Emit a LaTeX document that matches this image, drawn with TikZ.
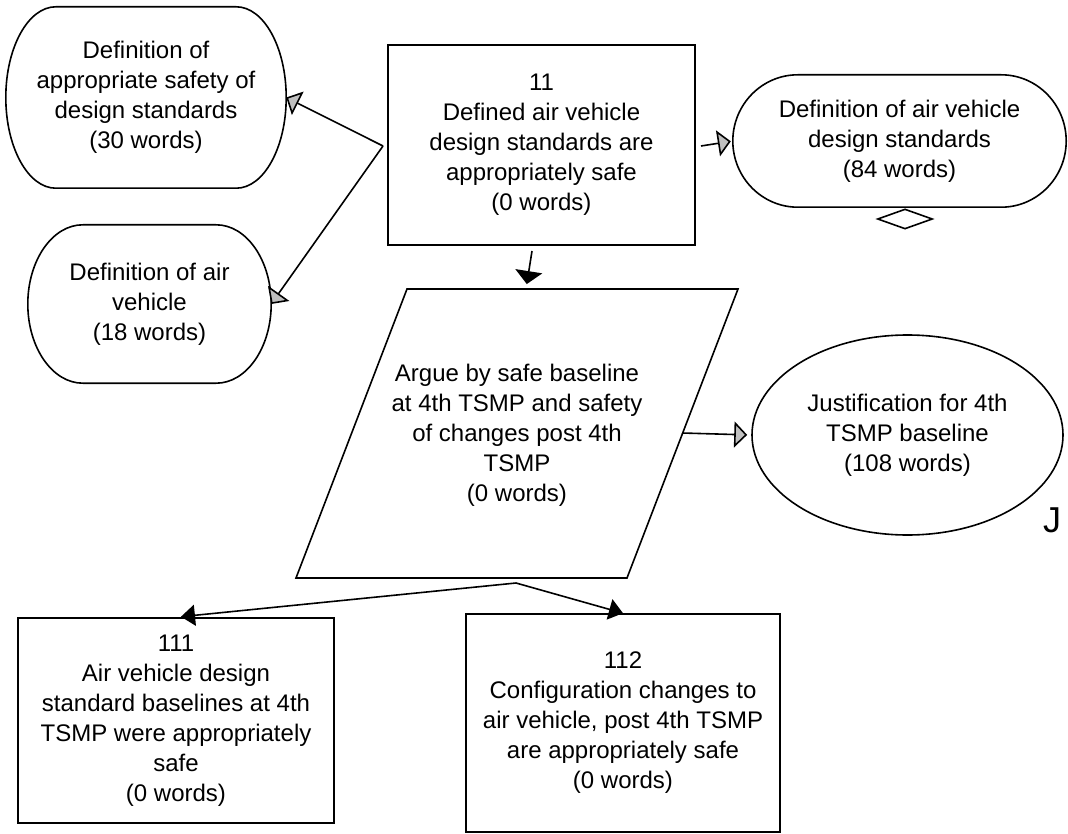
\documentclass[tikz,border=0pt]{standalone}
\usepackage{fontspec}
\setmainfont{Liberation Sans}
\usetikzlibrary{arrows.meta,calc,shapes.geometric}
\definecolor{tipgray}{RGB}{192,192,192}

% Stadium outline around a named node: #1 node, #2 horizontal end radius, #3 half height
\newcommand\stadiumoutline[3]{%
  \draw[shapeline] ($(#1.north west)+(#2,0)$) -- ($(#1.north east)+(-#2,0)$)
    .. controls +(0.5523*#2,0) and +(0,-0.5523*#3) .. (#1.east)
    .. controls +(0,0.5523*#3) and +(0.5523*#2,0) .. ($(#1.south east)+(-#2,0)$)
    -- ($(#1.south west)+(#2,0)$)
    .. controls +(-0.5523*#2,0) and +(0,0.5523*#3) .. (#1.west)
    .. controls +(0,-0.5523*#3) and +(-0.5523*#2,0) .. ($(#1.north west)+(#2,0)$)
    -- cycle;}

\tikzset{
  shapeline/.style={line width=1.6pt, line join=miter},
  label text/.style={align=center, inner sep=0pt, font=\fontsize{24}{30}\selectfont},
  stadiumtext/.style={label text},
  goalbox/.style={label text, draw, line width=1.6pt},
  contextell/.style={label text, ellipse, draw, line width=1.6pt},
  grayarrow/.style={line width=1.6pt, -{Triangle[length=13pt,width=26pt,fill=tipgray]}},
  blackarrow/.style={line width=1.6pt, -{Triangle[length=13pt,width=27pt]}},
  smallblack/.style={line width=1.6pt, -{Triangle[length=14pt,width=21pt]}},
}

\begin{document}
\begin{tikzpicture}[x=1pt,y=-1pt]
\useasboundingbox (0,0) rectangle (1068,834);

% context stadiums
\node[stadiumtext, minimum width=280pt, minimum height=181pt] (s1) at (146,97.5)
  {Definition of\\appropriate safety of\\design standards\\(30 words)};
\stadiumoutline{s1}{50}{90.5}

\node[stadiumtext, minimum width=243pt, minimum height=158pt] (s2) at (149.5,304)
  {Definition of air\\vehicle\\(18 words)};
\stadiumoutline{s2}{55}{79}

\node[stadiumtext, minimum width=333pt, minimum height=132pt] (s3) at (899.5,141)
  {Definition of air vehicle\\design standards\\(84 words)};
\stadiumoutline{s3}{65}{66}

% small diamond under the design standards context
\node[diamond, draw, line width=1.6pt, minimum width=55pt, minimum height=20pt, inner sep=0pt] (dia) at (905,219) {};

% top goal
\node[goalbox, minimum width=307pt, minimum height=200pt] (g11) at (541.5,145)
  {11\\Defined air vehicle\\design standards are\\appropriately safe\\(0 words)};

% strategy parallelogram
\coordinate (pbl) at (296,578);
\coordinate (pbr) at (627,578);
\coordinate (ptr) at (738,289);
\coordinate (ptl) at (407,289);
\draw[shapeline] (pbl) -- (pbr) -- (ptr) -- (ptl) -- cycle;
\node[label text] (strat) at (517,435)
  {Argue by safe baseline\\at 4th TSMP and safety\\of changes post 4th\\TSMP\\(0 words)};

% justification
\node[contextell, minimum width=311pt, minimum height=200pt] (just) at (907.5,435)
  {Justification for 4th\\TSMP baseline\\(108 words)};
\node[inner sep=0pt, font=\fontsize{36}{40}\selectfont] (jlabel) at (1052,520) {J};

% sub-goals
\node[goalbox, minimum width=316pt, minimum height=205pt] (g111) at (176,720.5)
  {111\\Air vehicle design\\standard baselines at 4th\\TSMP were appropriately\\safe\\(0 words)};
\node[goalbox, minimum width=314pt, minimum height=218pt] (g112) at (623,723)
  {112\\Configuration changes to\\air vehicle, post 4th TSMP\\are appropriately safe\\(0 words)};

% connectors
\coordinate (fork) at (383,146);
\draw[grayarrow] (fork) -- (s1.east);
\draw[grayarrow] (fork) -- (s2.east);

\coordinate (g11out) at (701,146);
\draw[grayarrow, shorten >=2pt] (g11out) -- (s3.west);

\coordinate (g11down) at (532,251);
\coordinate (stratin) at (526,289);
\draw[blackarrow, shorten >=5pt] (g11down) -- (stratin);

\coordinate (stratout) at (682,433);
\draw[grayarrow, shorten >=4pt] (stratout) -- (just.west);

\coordinate (split) at (516,583);
\draw[smallblack, shorten >=5pt] (split) -- (g111.north);
\draw[smallblack] (split) -- (g112.north);
\end{tikzpicture}
\end{document}
